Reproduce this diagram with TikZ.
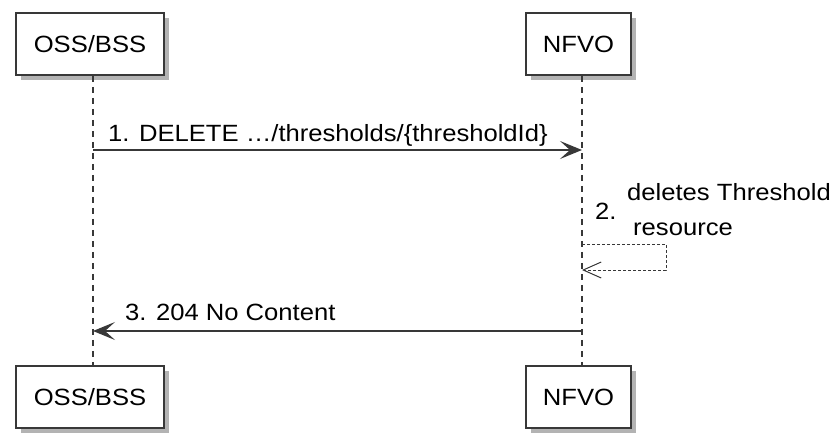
\documentclass[tikz,border=0pt]{standalone}
\usepackage{fontspec}
\setmainfont[FakeStretch=1.09]{Liberation Sans}
\usetikzlibrary{arrows.meta,shadows}
\definecolor{umlline}{HTML}{383838}

\begin{document}
\begin{tikzpicture}[x=1pt, y=-1pt,
  font=\fontsize{23.5}{28}\selectfont,
  actor/.style={draw=umlline, line width=1.6pt, fill=white, minimum height=62pt, inner sep=0pt,
    drop shadow={shadow xshift=5pt, shadow yshift=-5pt, fill=black!50, opacity=.6}},
  lifeline/.style={draw=umlline, line width=1.2pt, dash pattern=on 6pt off 5pt},
  msg/.style={draw=umlline, line width=1.3pt, -{Stealth[length=22pt, width=18pt, inset=10pt]}},
  selfmsg/.style={draw=umlline, line width=1pt, dash pattern=on 3pt off 2pt,
    -{Straight Barb[length=18pt, width=16pt]}},
  lbl/.style={anchor=base west, inner sep=0pt}]
\useasboundingbox (0,0) rectangle (830,434);
% participants, top and bottom
\node[actor, minimum width=148pt] (ossT) at (90,44) {OSS/BSS};
\node[actor, minimum width=105pt] (nfvoT) at (578.5,44) {NFVO};
\node[actor, minimum width=148pt] (ossB) at (90,397) {OSS/BSS};
\node[actor, minimum width=105pt] (nfvoB) at (578.5,397) {NFVO};
% lifelines
\draw[lifeline] ([xshift=3pt]ossT.south) -- ([xshift=3pt]ossB.north);
\draw[lifeline] ([xshift=3.5pt]nfvoT.south) -- ([xshift=3.5pt]nfvoB.north);
% points on the lifelines
\coordinate (oss1) at (93,150);
\coordinate (nfvo1) at (582,150);
\coordinate (nfvo2a) at (582,244);
\coordinate (nfvo2b) at (582,270);
\coordinate (nfvo3) at (582,331);
\coordinate (oss3) at (93,331);
% 1. request
\draw[msg] (oss1) -- (nfvo1);
\node[lbl] (m1) at (108,141) {1. DELETE …/thresholds/\{thresholdId\}};
% 2. self call
\draw[selfmsg] (nfvo2a) -- ++(84,0) |- (nfvo2b);
\node[lbl] (m2n) at (595,219) {2.};
\node[lbl] (m2a) at (627,200) {deletes Threshold};
\node[lbl] (m2b) at (633,235) {resource};
% 3. response
\draw[msg] (nfvo3) -- (oss3);
\node[lbl] (m3) at (125,320) {3. 204 No Content};
\end{tikzpicture}
\end{document}
